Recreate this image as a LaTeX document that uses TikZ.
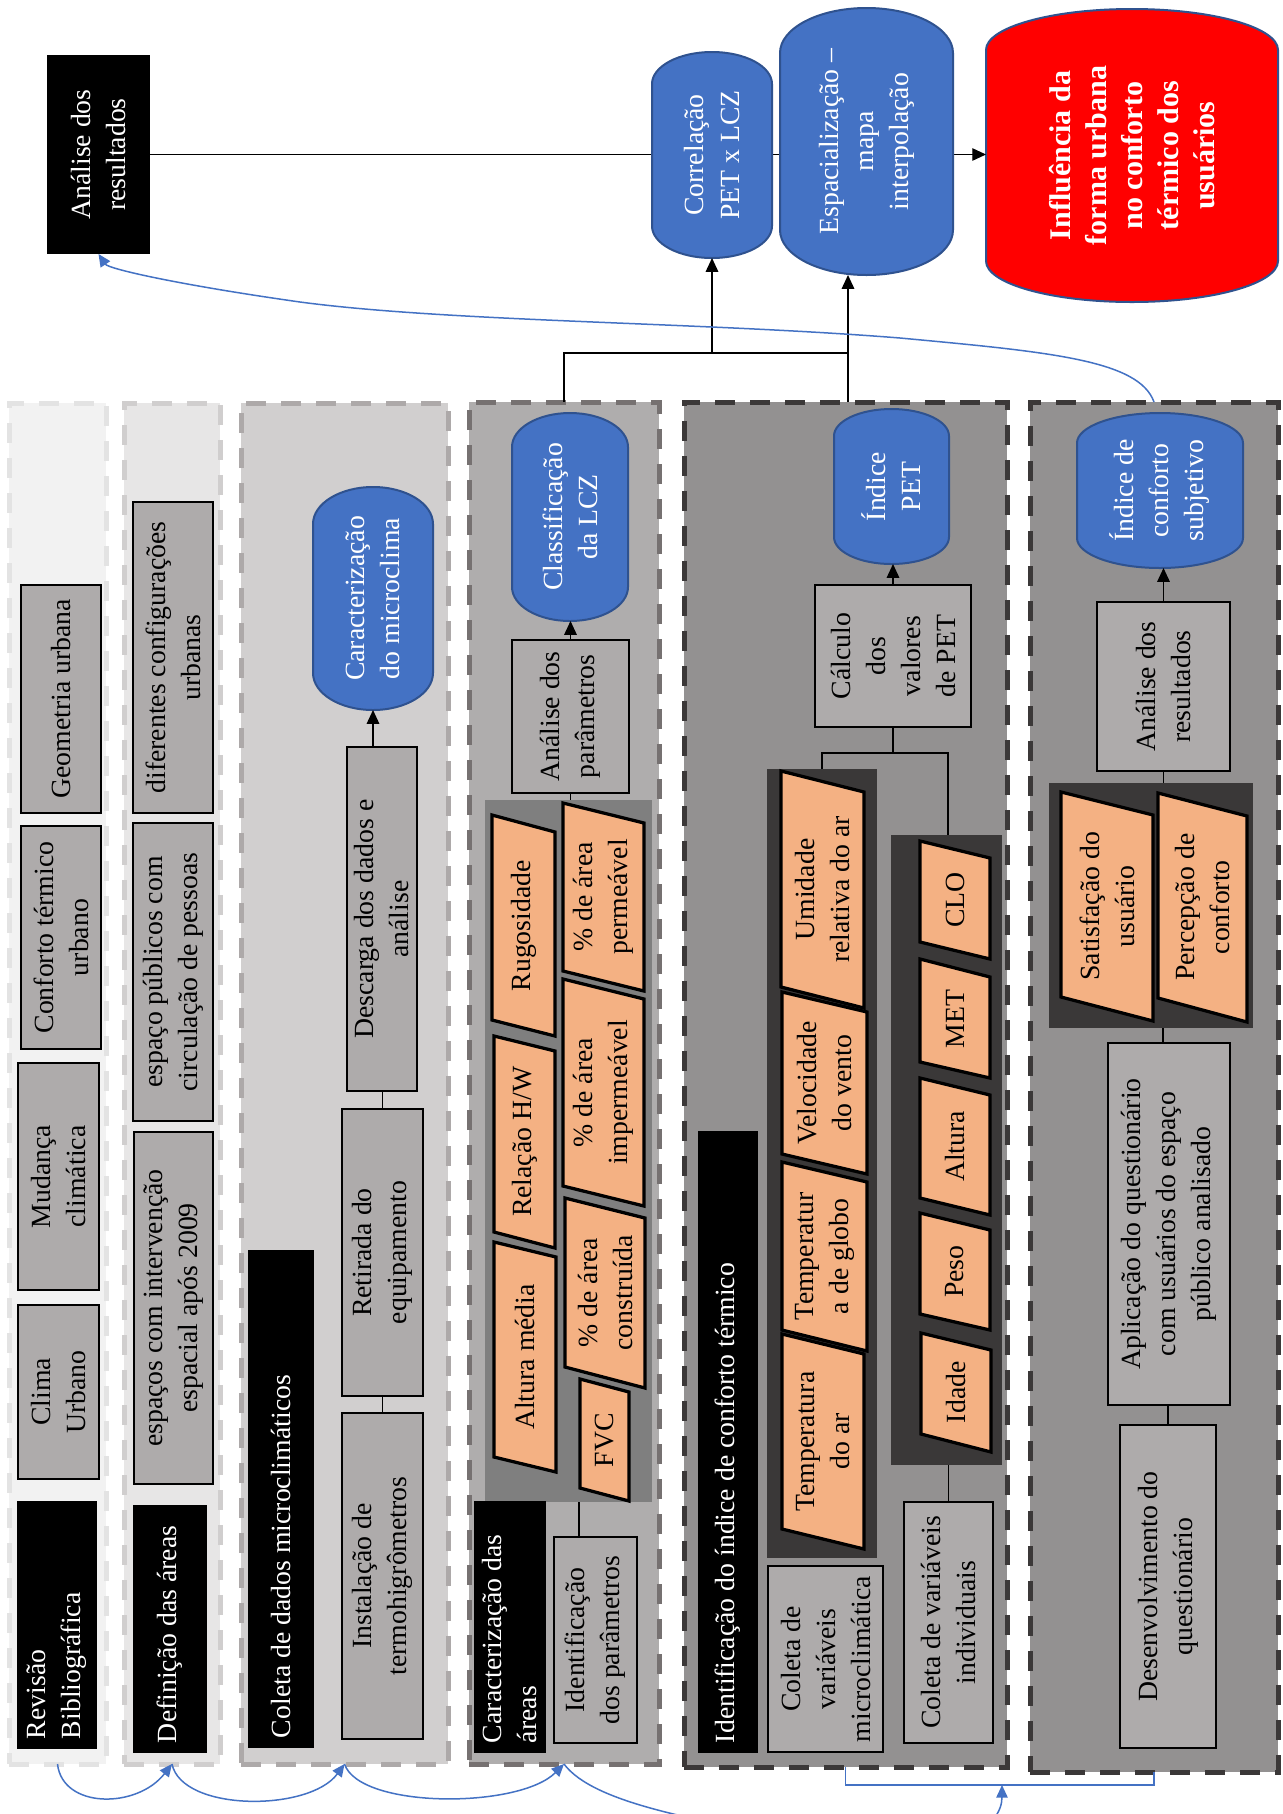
\documentclass[tikz,border=0pt]{standalone}
\usepackage{fontspec}
\setmainfont{Liberation Serif}
\usetikzlibrary{arrows.meta}
\definecolor{cAf}{HTML}{F2F2F2}\definecolor{cAd}{HTML}{E3E3E3}
\definecolor{cBf}{HTML}{E7E6E6}\definecolor{cBd}{HTML}{D0CECE}
\definecolor{cCf}{HTML}{D1CFCF}\definecolor{cCd}{HTML}{ADA9A9}
\definecolor{cDf}{HTML}{AFADAD}\definecolor{cDd}{HTML}{767171}
\definecolor{cEf}{HTML}{939191}\definecolor{cEd}{HTML}{3B3838}
\definecolor{boxg}{HTML}{AEABAB}
\definecolor{pangray}{HTML}{7F7F7F}
\definecolor{pandark}{HTML}{3A3838}
\definecolor{orng}{HTML}{F4B183}
\definecolor{bluef}{HTML}{4472C4}
\definecolor{blued}{HTML}{2F528F}
\newcommand\mybox[7]{%
  \pgfmathsetmacro\bxw{(#6-#4)*0.4}%
  \pgfmathsetmacro\bxh{(#5-#3)*0.4}%
  \node[#1,minimum width=\bxw pt,minimum height=\bxh pt] (#2) at ({(#3+#5)/2},{(#4+#6)/2}) {#7};}
\newcommand\ttlbox[6]{%
  \pgfmathsetmacro\bxw{(#5-#3)*0.4}%
  \pgfmathsetmacro\bxh{(#4-#2)*0.4}%
  \pgfmathsetmacro\bxt{(#5-#3)*0.4-8}%
  \node[ttl,minimum width=\bxw pt,minimum height=\bxh pt,text width=\bxt pt] (#1) at ({(#2+#4)/2},{(#3+#5)/2}) {#6};}
\newcommand\mypanel[6]{%
  \pgfmathsetmacro\bxw{(#5-#3)*0.4}%
  \pgfmathsetmacro\bxh{(#6-#4)*0.4}%
  \node[#1,minimum width=\bxw pt,minimum height=\bxh pt,inner sep=0pt] (#2) at ({(#3+#5)/2},{(#4+#6)/2}) {};}
\newcommand\mypara[8]{%
  \draw[para] (#2,#4) -- (#3,#5) -- (#3,#7) -- (#2,#6) -- cycle;
  \node[ptext] (#1) at ({(#2+#3)/2},{(#4+#5+#6+#7)/4}) {#8};}
\newcommand\mystad[6]{%
  \pgfmathsetmacro\sxa{#2+0.224*(#4-#2)}%
  \pgfmathsetmacro\sxb{#4-0.224*(#4-#2)}%
  \pgfmathsetmacro\sxc{(#2+#4)/2}%
  \pgfmathsetmacro\sya{#3+#6}%
  \pgfmathsetmacro\syaa{#3+0.448*#6}%
  \pgfmathsetmacro\syb{#5-#6}%
  \pgfmathsetmacro\sybb{#5-0.448*#6}%
  \path[#1] (#2,\sya) .. controls (#2,\syaa) and (\sxa,#3) .. (\sxc,#3) .. controls (\sxb,#3) and (#4,\syaa) .. (#4,\sya) -- (#4,\syb) .. controls (#4,\sybb) and (\sxb,#5) .. (\sxc,#5) .. controls (\sxa,#5) and (#2,\sybb) .. (#2,\syb) -- cycle;}
\begin{document}
\begin{tikzpicture}[x=0.4pt,y=-0.4pt,
  every node/.style={outer sep=0pt,font=\fontsize{11.1}{14}\selectfont},
  colA/.style={draw=cAd,fill=cAf,line width=2pt,dash pattern=on 8pt off 6pt},
  colB/.style={draw=cBd,fill=cBf,line width=2pt,dash pattern=on 8pt off 6pt},
  colC/.style={draw=cCd,fill=cCf,line width=2pt,dash pattern=on 8pt off 6pt},
  colD/.style={draw=cDd,fill=cDf,line width=2pt,dash pattern=on 8pt off 6pt},
  colE/.style={draw=cEd,fill=cEf,line width=2pt,dash pattern=on 8pt off 6pt},
  pgray/.style={fill=pangray},
  pdk/.style={fill=pandark},
  gbox/.style={draw=black,line width=0.9pt,fill=boxg,text=black,rotate=90,align=center,inner sep=0pt},
  ttl/.style={fill=black,text=white,rotate=90,align=flush left,inner xsep=4pt,inner ysep=0pt},
  tbl/.style={fill=black,text=white,rotate=90,align=center,inner sep=0pt},
  btxt/.style={text=white,rotate=90,align=center,inner sep=0pt},
  rtxt/.style={text=white,rotate=90,align=center,inner sep=0pt,font=\fontsize{12}{14.4}\selectfont\bfseries},
  ptext/.style={rotate=90,align=center,inner sep=0pt},
  para/.style={draw=black,fill=orng,line width=1.3pt},
  bshape/.style={fill=bluef,draw=blued,line width=0.8pt},
  rshape/.style={fill=red,draw=blued,line width=0.8pt},
  conn/.style={draw=black,line width=0.5pt},
  arr/.style={draw=black,line width=0.5pt,-{Triangle[length=5.5pt,width=5pt]}},
  bln/.style={draw=bluef,line width=0.6pt},
  barr/.style={draw=bluef,line width=0.6pt,-{Triangle[length=5pt,width=4.5pt]}}]
\useasboundingbox (0,0) rectangle (1282,1814);
\fill[white] (0,0) rectangle (1282,1814);
\clip (0,0) rectangle (1282,1814);
% columns
\mypanel{colA}{col1}{9}{403}{106}{1764}
\mypanel{colB}{col2}{124}{403}{220}{1764}
\mypanel{colC}{col3}{241}{403}{448}{1764}
\mypanel{colD}{col4}{469}{402}{659}{1764}
\mypanel{colE}{col5}{684}{402}{1007}{1767}
\mypanel{colE}{col6}{1030}{402}{1278}{1772}
% column 1
\mybox{gbox}{geo}{21}{585}{101}{813}{Geometria urbana}
\mybox{gbox}{conf}{21}{826}{101}{1049}{Conforto térmico\\urbano}
\mybox{gbox}{mud}{18}{1063}{99}{1290}{Mudança\\climática}
\mybox{gbox}{clima}{18}{1305}{99}{1479}{Clima\\Urbano}
\ttlbox{revb}{17}{1501}{97}{1749}{Revisão\\Bibliográfica}
% column 2
\mybox{gbox}{dif}{133}{502}{213}{813}{diferentes configurações\\urbanas}
\mybox{gbox}{esp}{133}{823}{213}{1121}{espaço públicos com\\circulação de pessoas}
\mybox{gbox}{espi}{134}{1132}{213}{1484}{espaços com intervenção\\espacial após 2009}
\ttlbox{defa}{133}{1505}{207}{1753}{Definição das áreas}
% column 3
\mystad{bshape}{313}{487}{433}{710}{37}
\mybox{btxt}{cmic}{313}{487}{433}{710}{Caracterização\\do microclima}
\mybox{gbox}{desc}{347}{747}{417}{1091}{Descarga dos dados e\\análise}
\mybox{gbox}{ret}{342}{1109}{423}{1396}{Retirada do\\equipamento}
\mybox{gbox}{inst}{342}{1413}{423}{1739}{Instalação de\\termohigrômetros}
\ttlbox{cold}{248}{1250}{314}{1748}{Coleta de dados microclimáticos}
\draw[arr] (cmic.center |- desc.east) -- (cmic.west);
\draw[conn] (ret.east) -- (ret.east |- desc.west);
\draw[conn] (inst.east) -- (inst.east |- ret.west);
% column 4
\mystad{bshape}{512}{413}{628}{621}{34}
\mybox{btxt}{clcz}{512}{413}{628}{621}{Classificação\\da LCZ}
\mybox{gbox}{apar}{512}{640}{629}{793}{Análise dos\\parâmetros}
\mypanel{pgray}{pan4}{485}{800}{652}{1502}
\mypara{rug}{492}{555}{815}{832}{1020}{1036}{Rugosidade}
\mypara{rhw}{494}{555}{1036}{1051}{1232}{1248}{Relação H/W}
\mypara{alm}{494}{556}{1242}{1257}{1457}{1472}{Altura média}
\mypara{pperm}{563}{644}{803}{823}{971}{991}{\% de área\\permeável}
\mypara{pimp}{563}{644}{979}{999}{1186}{1206}{\% de área\\impermeável}
\mypara{pcon}{565}{645}{1198}{1218}{1367}{1388}{\% de área\\construída}
\mypara{fvc}{580}{629}{1379}{1392}{1488}{1501}{FVC}
\ttlbox{cara}{474}{1501}{546}{1753}{Caracterização das\\áreas}
\mybox{gbox}{idp}{554}{1537}{637}{1743}{Identificação\\dos parâmetros}
\draw[arr] (apar.east) -- (apar.east |- clcz.west);
\draw[conn] (apar.west) -- (apar.west |- pan4.north);
\coordinate (k4) at (579,0);
\draw[conn] (idp.east -| k4) -- (pan4.south -| k4);
% column 5
\mystad{bshape}{834}{409}{949}{564}{27}
\mybox{btxt}{ipet}{834}{409}{949}{564}{Índice\\PET}
\mybox{gbox}{calc}{815}{585}{971}{727}{Cálculo\\dos\\valores\\de PET}
\mypanel{pdk}{pd1}{767}{769}{877}{1558}
\mypanel{pdk}{pd2}{891}{835}{1002}{1465}
\mypara{umi}{781}{864}{771}{792}{987}{1008}{Umidade\\relativa do ar}
\mypara{vel}{782}{867}{992}{1012}{1154}{1174}{Velocidade\\do vento}
\mypara{tglo}{782}{867}{1162}{1182}{1330}{1351}{Temperatur\\a de globo}
\mypara{tar}{782}{864}{1334}{1354}{1529}{1549}{Temperatura\\do ar}
\mypara{clo}{920}{990}{841}{858}{942}{959}{CLO}
\mypara{met}{920}{990}{959}{977}{1062}{1078}{MET}
\mypara{alt}{920}{990}{1078}{1095}{1198}{1215}{Altura}
\mypara{peso}{920}{990}{1213}{1230}{1314}{1330}{Peso}
\mypara{idade}{921}{991}{1333}{1350}{1434}{1452}{Idade}
\ttlbox{idit}{698}{1131}{758}{1753}{Identificação do índice de conforto térmico}
\mybox{gbox}{cvm}{768}{1566}{883}{1752}{Coleta de\\variáveis\\microclimática}
\mybox{gbox}{cvi}{904}{1502}{993}{1743}{Coleta de variáveis\\individuais}
\draw[arr] (calc.east) -- (calc.east |- ipet.west);
\coordinate (j5) at (893,753);
\coordinate (j5l) at (822,0);
\coordinate (j5r) at (948,0);
\draw[conn] (calc.west) -- (calc.west |- j5);
\draw[conn] (pd1.north -| j5l) |- (j5) -| (pd2.north -| j5r);
\draw[conn] (cvi.east) -- (cvi.east |- pd2.south);
% column 6
\mystad{bshape}{1077}{413}{1243}{568}{30}
\mybox{btxt}{isub}{1077}{413}{1243}{568}{Índice de\\conforto\\subjetivo}
\mybox{gbox}{ares}{1097}{602}{1230}{771}{Análise dos\\resultados}
\mypanel{pdk}{pd6}{1049}{783}{1253}{1028}
\mypara{sat}{1061}{1153}{792}{815}{997}{1021}{Satisfação do\\usuário}
\mypara{perc}{1158}{1247}{793}{816}{998}{1022}{Percepção de\\conforto}
\mybox{gbox}{apl}{1108}{1043}{1230}{1405}{Aplicação do questionário\\com usuários do espaço\\público analisado}
\mybox{gbox}{des}{1120}{1425}{1216}{1748}{Desenvolvimento do\\questionário}
\draw[arr] (ares.east) -- (ares.east |- isub.west);
\draw[conn] (ares.west) -- (ares.west |- pd6.north);
\coordinate (k6) at (1163,0);
\draw[conn] (apl.east -| k6) -- (pd6.south -| k6);
\draw[conn] (des.east) -- (des.east |- apl.west);
% top
\mybox{tbl}{anr}{47}{55}{150}{254}{Análise dos\\resultados}
\mystad{rshape}{986}{9}{1278}{302}{41}
\mybox{rtxt}{infl}{986}{9}{1278}{302}{Influência da\\forma urbana\\no conforto\\térmico dos\\usuários}
\draw[arr] (anr.south) -- (anr.south -| infl.north);
\mystad{bshape}{652}{52}{772}{258}{32}
\mybox{btxt}{corr}{652}{52}{772}{258}{Correlação\\PET x LCZ}
\mystad{bshape}{780}{8}{953}{275}{45}
\mybox{btxt}{espz}{780}{8}{953}{275}{Espacialização –\\mapa\\interpolação}
\coordinate (tj) at (848,353);
\draw[conn] (col4.north) |- (tj);
\draw[arr] (col5.north -| tj) -- (espz.west -| tj);
\draw[arr] (corr.west |- tj) -- (corr.west);
% blue connectors
\draw[barr] (col6.north) .. controls +(-15,-42) and +(150,14) .. (900,338) .. controls +(-200,-16) and +(150,20) .. (300,302) .. controls +(-120,-17) and +(10,15) .. (anr.west);
\draw[barr] (col1.south) .. controls +(5,45) and +(-35,45) .. (col2.south);
\draw[barr] (col2.south) .. controls +(10,48) and +(-35,48) .. (col3.south);
\draw[barr] (col3.south) .. controls +(15,45) and +(-45,45) .. (col4.south);
\coordinate (bm) at (1002,1785);
\draw[bln] (col5.south) -- (col5.south |- bm) -| (col6.south);
\draw[barr] (col4.south) .. controls +(30,40) and +(-100,-20) .. (800,1840) .. controls +(160,30) and +(0,40) .. (bm);
\end{tikzpicture}
\end{document}
